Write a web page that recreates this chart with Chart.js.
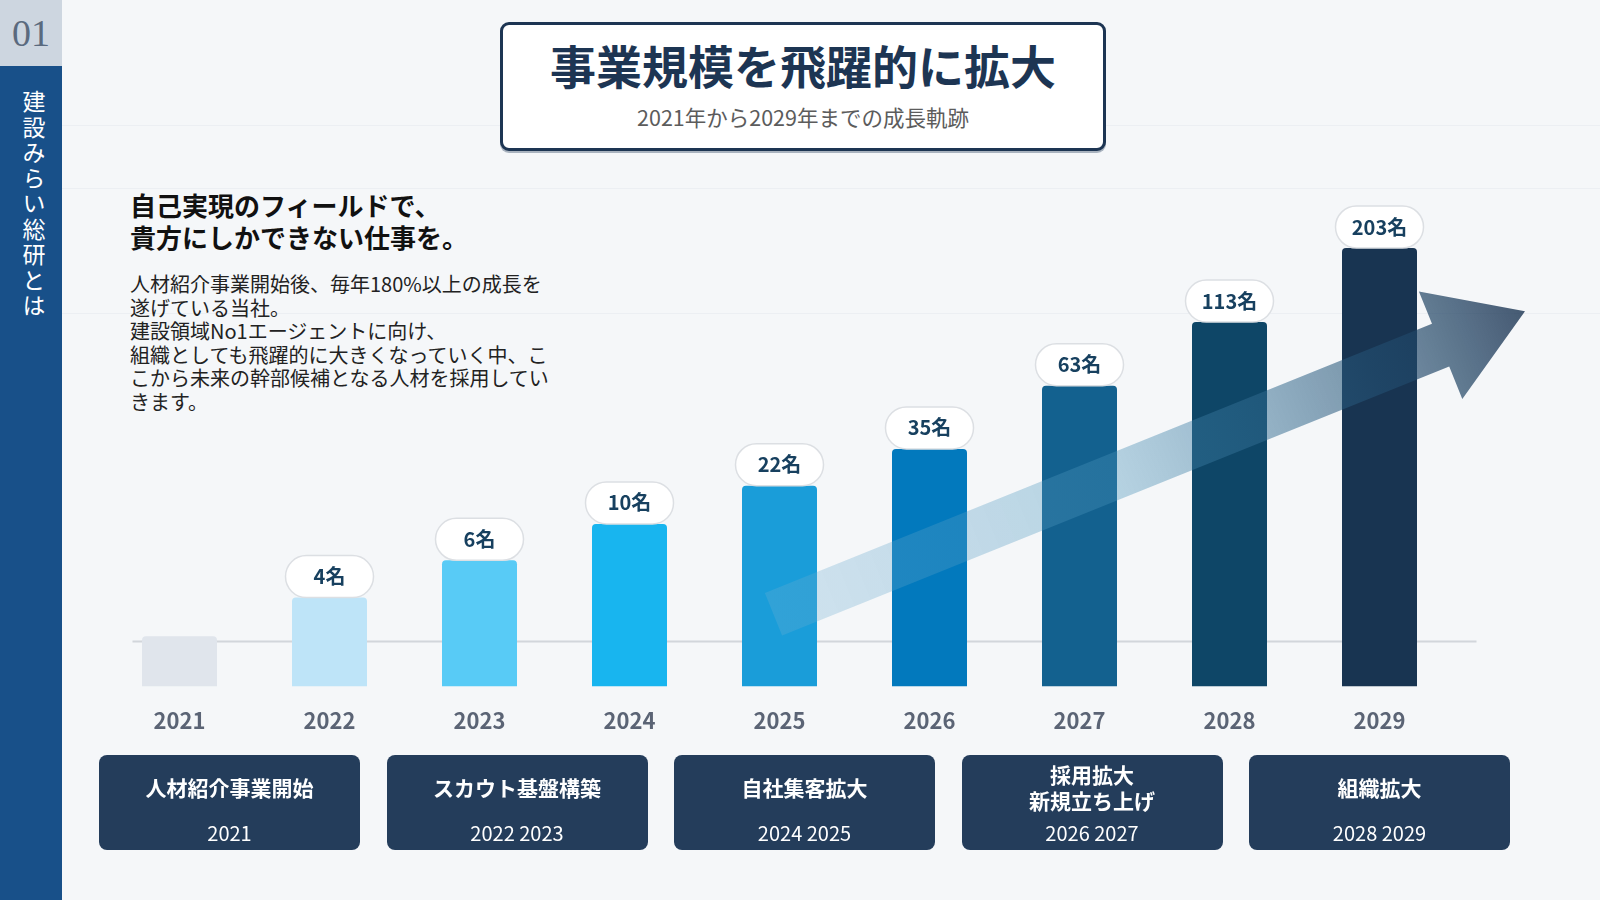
<!DOCTYPE html>
<html lang="ja">
<head>
<meta charset="utf-8">
<title>事業規模を飛躍的に拡大</title>
<script src="https://cdn.jsdelivr.net/npm/chart.js@4.4.0/dist/chart.umd.min.js"></script>
<style>
  body { margin: 0; width: 1600px; height: 900px; background: #f5f7f9; position: relative; overflow: hidden;
         font-family: "Noto Sans CJK JP", "Noto Sans", sans-serif; }
  .side { position: absolute; left: 0; top: 0; width: 62px; height: 900px; background: #185089; }
  .side .num { height: 66px; background: #cdd6e0; color: #5a6a7e; font-family: "Liberation Serif", "DejaVu Serif", serif;
               font-size: 38px; line-height: 66px; text-align: center; }
  .side .vtext { position: absolute; left: 22px; top: 90px; writing-mode: vertical-rl; color: #fff;
                 font-size: 23px; line-height: 1; letter-spacing: 2.5px; }
  .rule { position: absolute; left: 62px; right: 0; height: 1px; background: #eceff3; }
  .titlebox { position: absolute; left: 500px; top: 22px; width: 606px; height: 129px; box-sizing: border-box;
              border: 3px solid #1d3553; border-radius: 9px; background: #fff; box-shadow: 0 2px 0 rgba(29,53,83,0.35); }
  .titlebox .t { position: absolute; left: 0; right: 0; top: 12px; text-align: center; font-size: 46px; line-height: 55px;
                 font-weight: bold; color: #1d3553; }
  .titlebox .s { position: absolute; left: 0; right: 0; top: 79px; text-align: center; font-size: 21.5px; line-height: 25px; color: #5c5c5c; }
  .lead { position: absolute; left: 130px; top: 189px; font-size: 26px; line-height: 32px; font-weight: bold; color: #111; white-space: nowrap; }
  .body { position: absolute; left: 130px; top: 272px; font-size: 20px; line-height: 23.5px; color: #222; white-space: nowrap; }
  #wrap { position: absolute; left: 62px; top: 181px; width: 1538px; height: 581px; }
  .phase { position: absolute; top: 755px; width: 261px; height: 95px; background: #243d5b; border-radius: 8px; color: #fff; }
  .phase .pt { position: absolute; left: 0; right: 0; top: 0; height: 65px; display: flex; align-items: center; justify-content: center;
               text-align: center; font-size: 21px; line-height: 25.5px; font-weight: bold; }
  .phase .py { position: absolute; left: 0; right: 0; top: 66px; text-align: center; font-size: 20px; line-height: 24px; }
</style>
</head>
<body>
<div class="side"><div class="num">01</div><div class="vtext">建設みらい総研とは</div></div>
<div class="rule" style="top:125px"></div>
<div class="rule" style="top:188px"></div>
<div class="rule" style="top:313px"></div>
<div class="titlebox">
  <div class="t">事業規模を飛躍的に拡大</div>
  <div class="s">2021年から2029年までの成長軌跡</div>
</div>
<div class="lead">自己実現のフィールドで、<br>貴方にしかできない仕事を。</div>
<div class="body">人材紹介事業開始後、毎年180%以上の成長を<br>遂げている当社。<br>建設領域No1エージェントに向け、<br>組織としても飛躍的に大きくなっていく中、こ<br>こから未来の幹部候補となる人材を採用してい<br>きます。</div>
<div id="wrap"><canvas id="myChart" width="1538" height="581"></canvas></div>
<div id="phases"></div>

<script>
let years = ['2021', '2022', '2023', '2024', '2025', '2026', '2027', '2028', '2029']
// bar height as drawn (tallest bar = 100), not proportional to headcount
let barHeights = [11.5, 20.3, 28.8, 37.1, 45.8, 54.2, 68.6, 83.1, 100]
let hires = [null, 4, 6, 10, 22, 35, 63, 113, 203]
let barColors = ['#e0e5ec', '#bee4f8', '#58cbf6', '#18b5ef', '#1a9dd9', '#0279bd', '#13618f', '#0e4667', '#183451']
let phaseTitles = ['人材紹介事業開始', 'スカウト基盤構築', '自社集客拡大', '採用拡大<br>新規立ち上げ', '組織拡大']
let phaseYears = ['2021', '2022 2023', '2024 2025', '2026 2027', '2028 2029']

let phaseHtml = ''
phaseTitles.forEach((t, i) => {
    phaseHtml += '<div class="phase" style="left:' + (99 + i * 287.5) + 'px"><div class="pt"><div>' + t +
        '</div></div><div class="py">' + phaseYears[i] + '</div></div>'
})
document.getElementById('phases').innerHTML = phaseHtml

let baseLine = 10.3
let arrowFrom = [3.96, 16.5]
let arrowTo = [8.97, 85.6]

function roundRect(c, x, y, w, h, r) {
    c.beginPath()
    c.moveTo(x + r, y)
    c.arcTo(x + w, y, x + w, y + h, r)
    c.arcTo(x + w, y + h, x, y + h, r)
    c.arcTo(x, y + h, x, y, r)
    c.arcTo(x, y, x + w, y, r)
    c.closePath()
}

let decor = {
    id: 'decor',
    beforeDatasetsDraw(chart) {
        let c = chart.ctx, a = chart.chartArea
        let y = chart.scales.y.getPixelForValue(baseLine)
        c.save()
        c.strokeStyle = '#d2d6db'
        c.lineWidth = 2
        c.beginPath()
        c.moveTo(a.left + 28, y)
        c.lineTo(a.right + 22, y)
        c.stroke()
        c.restore()
    },
    afterDatasetsDraw(chart) {
        let c = chart.ctx, xs = chart.scales.x, ys = chart.scales.y
        // trend arrow
        let x0 = xs.getPixelForValue(arrowFrom[0]), y0 = ys.getPixelForValue(arrowFrom[1])
        let x1 = xs.getPixelForValue(arrowTo[0]), y1 = ys.getPixelForValue(arrowTo[1])
        let len = Math.hypot(x1 - x0, y1 - y0)
        let ux = (x1 - x0) / len, uy = (y1 - y0) / len
        let px = -uy, py = ux
        let headLen = 91, headW = 58, shaftW = 23
        let bx = x1 - ux * headLen, by = y1 - uy * headLen
        let g = c.createLinearGradient(x0, y0, x1, y1)
        g.addColorStop(0, 'rgba(110,175,210,0.28)')
        g.addColorStop(0.45, 'rgba(70,145,185,0.36)')
        g.addColorStop(0.8, 'rgba(35,80,115,0.6)')
        g.addColorStop(1, 'rgba(25,50,80,0.8)')
        c.save()
        c.fillStyle = g
        c.beginPath()
        c.moveTo(x0 + px * shaftW, y0 + py * shaftW)
        c.lineTo(bx + px * shaftW, by + py * shaftW)
        c.lineTo(bx + px * headW, by + py * headW)
        c.lineTo(x1, y1)
        c.lineTo(bx - px * headW, by - py * headW)
        c.lineTo(bx - px * shaftW, by - py * shaftW)
        c.lineTo(x0 - px * shaftW, y0 - py * shaftW)
        c.closePath()
        c.fill()
        c.restore()

        // headcount pills
        let meta = chart.getDatasetMeta(0)
        c.save()
        c.font = 'bold 20px "Noto Sans CJK JP", "Noto Sans", sans-serif'
        c.textAlign = 'center'
        c.textBaseline = 'middle'
        meta.data.forEach((bar, i) => {
            if (hires[i] == null) return
            let w = 88, h = 42
            roundRect(c, bar.x - w / 2, bar.y - h, w, h, h / 2)
            c.fillStyle = '#ffffff'
            c.fill()
            c.strokeStyle = '#dcdfe3'
            c.lineWidth = 1.5
            c.stroke()
            c.fillStyle = '#17405f'
            c.fillText(hires[i] + '名', bar.x, bar.y - h / 2)
        })
        c.restore()
    }
}

let ctx = document.getElementById('myChart').getContext('2d')
let myChart = new Chart(ctx, {
    type: 'bar',
    data: {
        labels: years,
        datasets: [{
            data: barHeights,
            backgroundColor: barColors,
            borderRadius: 4,
            barPercentage: 0.5,
            categoryPercentage: 1.0
        }]
    },
    options: {
        responsive: false,
        animation: false,
        devicePixelRatio: 1,
        layout: {
            padding: { left: 42.5, right: 145.5, top: 67, bottom: 7 }
        },
        plugins: {
            legend: { display: false },
            tooltip: { enabled: false }
        },
        scales: {
            x: {
                grid: { display: false, drawTicks: false },
                border: { display: false },
                ticks: {
                    color: '#5b6475',
                    padding: 21,
                    font: { family: '"Noto Sans CJK JP", "Noto Sans", sans-serif', size: 22, weight: 'bold' }
                }
            },
            y: {
                display: false,
                min: 0,
                max: 100
            }
        }
    },
    plugins: [decor]
})
</script>
</body>
</html>
